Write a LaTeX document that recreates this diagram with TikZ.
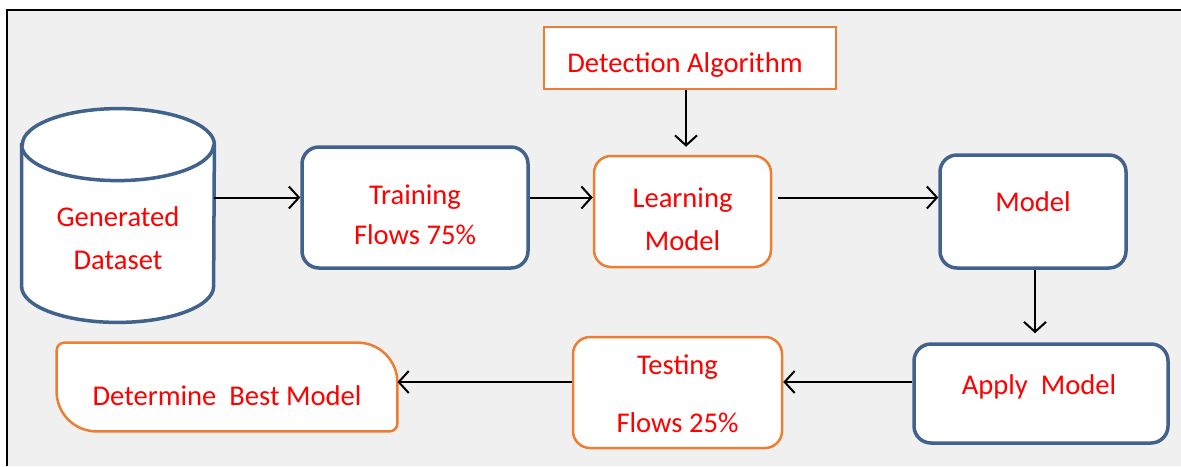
\documentclass[tikz,border=0pt]{standalone}
\usepackage{fontspec}
\setmainfont{Carlito}
\usetikzlibrary{positioning, arrows.meta, backgrounds}

\definecolor{boxblue}{RGB}{65,98,140}
\definecolor{boxorange}{RGB}{237,125,49}
\definecolor{panelgray}{RGB}{240,240,240}

\tikzset{
    bluebox/.style={draw=boxblue, line width=1.75pt, fill=white, rounded corners=8.5pt, inner sep=0pt},
    orangebox/.style={draw=boxorange, line width=1.25pt, fill=white, rounded corners=8.5pt, inner sep=0pt},
    boxtext/.style={text=red, font=\fontsize{14.3}{20}\selectfont, align=center, inner sep=0pt},
    flow/.style={-{Straight Barb[length=5pt,width=11pt]}, line width=1pt},
}

\begin{document}
\begin{tikzpicture}[x=0.5pt, y=-0.5pt]
        \useasboundingbox (0,0) rectangle (1181,466);
        % boxes
        \node[minimum width=96pt, minimum height=70.5pt, inner sep=0pt,
            label={[boxtext, yshift=-11.5pt]center:{Generated\\[1.5pt]Dataset}}] (data) at (118,215.5) {};
        \node[bluebox, minimum width=113pt, minimum height=60.5pt,
            label={[boxtext, yshift=-3.5pt]center:{Training\\Flows 75\%}}] (train) at (415,207.5) {};
        \node[orangebox, minimum width=88.5pt, minimum height=55.5pt,
            label={[boxtext, yshift=-4pt]center:{Learning\\[1.5pt]Model}}] (learn) at (682.5,211.5) {};
        \node[orangebox, rounded corners=0pt, minimum width=146pt, minimum height=31pt,
            label={[boxtext, xshift=-2.5pt, yshift=-3.5pt]center:Detection Algorithm}] (detect) at (690,58) {};
        \node[bluebox, minimum width=93pt, minimum height=56.5pt,
            label={[boxtext, yshift=5pt]center:Model}] (model) at (1033,211.5) {};
        \node[bluebox, minimum width=127pt, minimum height=49.5pt,
            label={[boxtext, xshift=-1pt, yshift=3.25pt]center:Apply\ \ Model}] (apply) at (1041,393.5) {};
        \node[orangebox, minimum width=104.5pt, minimum height=55.5pt,
            label={[boxtext, yshift=-0.75pt]center:{Testing\\[9pt]Flows 25\%}}] (test) at (677.5,392.5) {};
        \node[minimum width=170pt, minimum height=44pt, inner sep=0pt,
            label={[boxtext, yshift=-4.5pt]center:Determine\ \ Best Model}] (best) at (227,387) {};

        \begin{scope}[on background layer]
            \fill[panelgray] (7,10) rectangle (1181,466);
            \draw[line width=0.7pt] (7,466) -- (7,10) -- (1181,10);
            % cylinder
            \draw[boxblue, line width=1.75pt, fill=white]
                (data.north west) -- (data.south west)
                arc[start angle=180, end angle=360, x radius=48pt, y radius=18pt]
                -- (data.north east)
                arc[start angle=0, end angle=180, x radius=48pt, y radius=18pt] -- cycle;
            \draw[boxblue, line width=1.75pt]
                (data.north west) arc[start angle=180, end angle=360, x radius=48pt, y radius=18pt];
            % leaf shape
            \draw[boxorange, line width=1.25pt, fill=white]
                (best.north) [rounded corners=20pt]
                -- (best.north east) [rounded corners=4pt]
                -- (best.south east) [rounded corners=20pt]
                -- (best.south west) [rounded corners=4pt]
                -- (best.north west) -- cycle;
        \end{scope}

        % connectors
        \draw[flow] ([yshift=9pt]data.east) -- ([yshift=5pt]train.west);
        \draw[flow] ([yshift=5pt]train.east) -- ([yshift=7pt]learn.west);
        \draw[flow] ([xshift=3pt, yshift=7pt]learn.east) -- ([yshift=7pt]model.west);
        \draw[flow, shorten >=4pt] ([xshift=-2pt]detect.south) -- ([xshift=-2pt]detect.south |- learn.north);
        \draw[flow, shorten >=4.5pt] ([xshift=1pt]model.south) -- ([xshift=1pt]model.south |- apply.north);
        \draw[flow] ([yshift=5.75pt]apply.west) -- ([yshift=5.25pt]test.east);
        \draw[flow] ([yshift=5.25pt]test.west) -- ([yshift=2.5pt]best.east);
\end{tikzpicture}
\end{document}
